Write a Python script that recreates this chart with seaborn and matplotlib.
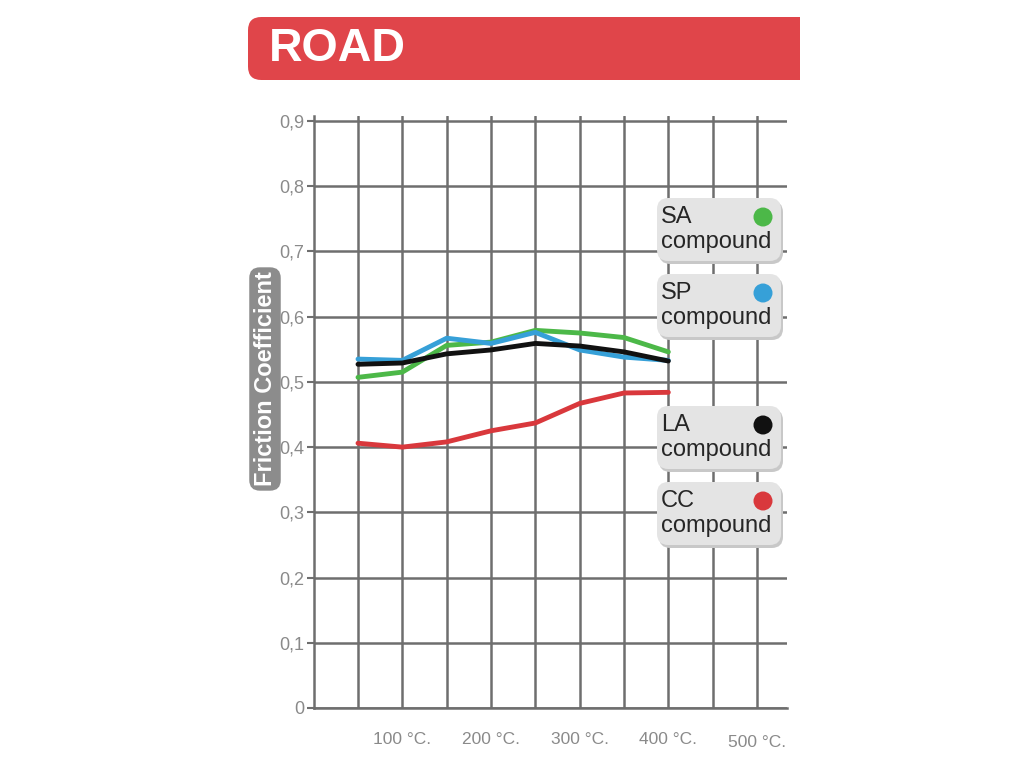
import matplotlib
matplotlib.use("Agg")
import matplotlib.pyplot as plt
from matplotlib.patches import FancyBboxPatch, Ellipse, Rectangle
import seaborn as sns
import pandas as pd

# Brake pad friction coefficient vs. disc temperature
temps = [50, 100, 150, 200, 250, 300, 350, 400]
sa_values = [0.507, 0.515, 0.556, 0.561, 0.579, 0.575, 0.568, 0.546]
sp_values = [0.535, 0.533, 0.567, 0.559, 0.576, 0.549, 0.538, 0.533]
la_values = [0.527, 0.529, 0.543, 0.549, 0.559, 0.555, 0.546, 0.532]
cc_values = [0.406, 0.400, 0.408, 0.425, 0.437, 0.467, 0.483, 0.484]

compounds = ["CC", "SA", "SP", "LA"]
series = {"CC": cc_values, "SA": sa_values, "SP": sp_values, "LA": la_values}
colors = {"SA": "#4cb848", "SP": "#36a0d8", "LA": "#111111", "CC": "#d9383c"}

x_ticks = [50, 100, 150, 200, 250, 300, 350, 400, 450, 500]
x_labels = ["", "100 °C.", "", "200 °C.", "", "300 °C.", "", "400 °C.", "", "500 °C."]
y_ticks = [0, 0.1, 0.2, 0.3, 0.4, 0.5, 0.6, 0.7, 0.8, 0.9]
y_labels = ["0", "0,1", "0,2", "0,3", "0,4", "0,5", "0,6", "0,7", "0,8", "0,9"]

legend_order = ["SA", "SP", "LA", "CC"]

df = pd.DataFrame(
    [(c, t, v) for c in compounds for t, v in zip(temps, series[c])],
    columns=["compound", "temp", "mu"],
)

sns.set_theme(style="white")
plt.rcParams["font.family"] = ["Liberation Sans", "DejaVu Sans"]

W, H = 1024, 768
fig = plt.figure(figsize=(W / 100, H / 100), dpi=100)
fig.patch.set_facecolor("white")


def fx(x):
    return x / W


def fy(y):
    return 1 - y / H


# Red header banner: rounded on the left, square on the right
banner_red = "#e0454a"
fig.patches.append(FancyBboxPatch(
    (fx(248), fy(80)), fx(700) - fx(248), fy(17) - fy(80),
    boxstyle="round,pad=0,rounding_size=0.013",
    transform=fig.transFigure, facecolor=banner_red, edgecolor="none",
    mutation_aspect=W / H,
))
fig.patches.append(Rectangle(
    (fx(600), fy(80)), fx(800) - fx(600), fy(17) - fy(80),
    transform=fig.transFigure, facecolor=banner_red, edgecolor="none",
))
fig.text(fx(269), fy(49), "ROAD", color="white", fontsize=33.5, fontweight="bold",
         va="center", ha="left")

# Plot area
left, right, bottom, top = 313.67, 787, 708, 116
ax = fig.add_axes([fx(left), fy(bottom), fx(right) - fx(left), fy(top) - fy(bottom)])
ax.set_facecolor("white")

sns.lineplot(
    data=df, x="temp", y="mu", hue="compound", hue_order=compounds,
    palette=colors, linewidth=3.5, legend=False, ax=ax, zorder=3,
)

ax.set_xlim(0, (right - left) / 0.88667)
ax.set_ylim(0, (bottom - top) / 652.2)
ax.set_xticks(x_ticks)
ax.set_xticklabels(x_labels)
ax.set_yticks(y_ticks)
ax.set_yticklabels(y_labels)
ax.set_xlabel("")
ax.set_ylabel("")

grid_color = "#6e6e6e"
ax.grid(True, color=grid_color, linewidth=1.8, zorder=1)
for s in ["top", "right"]:
    ax.spines[s].set_visible(False)
for s in ["left", "bottom"]:
    ax.spines[s].set_color(grid_color)
    ax.spines[s].set_linewidth(1.8)

ax.tick_params(axis="x", length=0, pad=17, labelsize=12.5, labelcolor="#8a8a8a")
ax.tick_params(axis="y", length=5, width=1.5, color=grid_color, pad=2,
               labelsize=13, labelcolor="#8a8a8a", left=True)
# the last temperature label sits a little lower
ax.get_xticklabels()[-1].set_y(-0.006)

# Y-axis title in a grey rounded tag
fig.text(fx(265), fy(379), "Friction Coefficient", rotation=90, color="white",
         fontsize=17, fontweight="bold", ha="center", va="center",
         bbox=dict(boxstyle="round,pad=0.18,rounding_size=0.45",
                   facecolor="#8c8c8c", edgecolor="none"))

# Compound legend tags
tag_tops = {"SA": 198, "SP": 274, "LA": 406, "CC": 482}
tag_left, tag_right, tag_h = 657, 781, 63
for name in legend_order:
    t = tag_tops[name]
    shadow = FancyBboxPatch(
        (fx(tag_left + 2), fy(t + tag_h + 3)), fx(tag_right) - fx(tag_left), fy(t) - fy(t + tag_h),
        boxstyle="round,pad=0,rounding_size=0.011", transform=fig.transFigure,
        facecolor="#c8c8c8", edgecolor="none", mutation_aspect=W / H, zorder=5,
    )
    box = FancyBboxPatch(
        (fx(tag_left), fy(t + tag_h)), fx(tag_right) - fx(tag_left), fy(t) - fy(t + tag_h),
        boxstyle="round,pad=0,rounding_size=0.011", transform=fig.transFigure,
        facecolor="#e4e4e4", edgecolor="none", mutation_aspect=W / H, zorder=6,
    )
    fig.patches.extend([shadow, box])
    fig.text(fx(661), fy(t + 19), name, color="#262626", fontsize=17,
             ha="left", va="center", zorder=7)
    fig.text(fx(661), fy(t + 44), "compound", color="#262626", fontsize=17,
             ha="left", va="center", zorder=7)
    fig.patches.append(Ellipse(
        (fx(763), fy(t + 19)), 19 / W, 19 / H, transform=fig.transFigure,
        facecolor=colors[name], edgecolor="none", zorder=7,
    ))

fig.savefig("out.png", dpi=100, facecolor="white")
